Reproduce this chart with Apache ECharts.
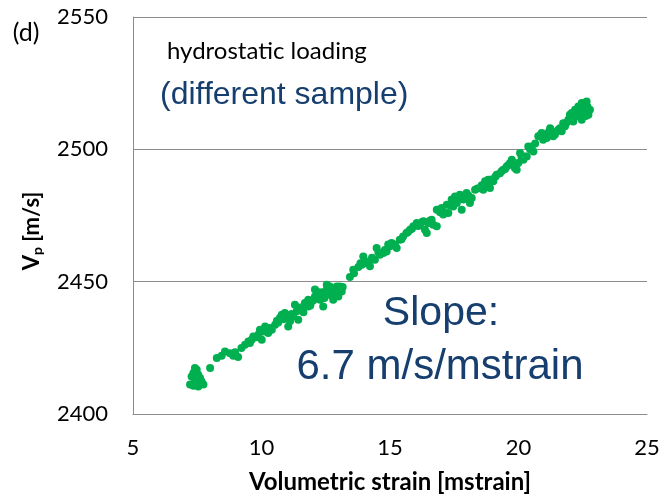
<!DOCTYPE html>
<html><head><meta charset="utf-8">
<script src="https://cdn.jsdelivr.net/npm/echarts@6/dist/echarts.min.js"></script>
<style>html,body{margin:0;padding:0;background:#fff}#c{width:661px;height:494px}</style>
</head><body><div id="c"></div>
<script>
// Volumetric strain [mstrain]
var strainX = [7.41,7.48,7.35,7.54,7.28,7.61,7.41,7.67,7.48,7.22,7.74,7.35,7.54,
8.00,8.26,8.45,8.58,8.77,8.90,8.97,9.09,9.22,9.36,9.49,9.62,9.68,9.88,9.94,10.01,10.07,10.14,10.26,10.40,10.53,10.65,10.79,10.91,10.98,11.04,11.11,11.24,11.30,11.37,11.43,11.56,11.69,11.82,11.82,11.95,12.08,12.08,12.15,12.28,12.28,12.40,12.47,12.54,12.54,12.66,12.66,12.79,12.79,12.86,12.93,12.93,12.99,13.05,13.12,
13.44,13.57,13.77,13.90,13.96,14.16,14.22,14.41,14.48,14.61,14.74,14.87,14.93,15.06,15.19,15.26,15.38,15.51,15.64,15.78,15.91,16.04,16.17,16.30,16.36,16.43,16.49,16.62,16.68,16.82,16.82,16.88,17.01,17.07,17.14,17.21,17.27,17.40,17.46,17.53,17.60,17.72,17.79,17.85,17.98,18.11,18.18,18.31,18.50,18.63,18.70,18.82,18.89,19.02,19.15,19.28,19.41,19.54,19.67,19.74,19.86,19.93,19.99,20.06,20.19,20.25,20.32,20.38,20.51,20.58,20.77,20.90,20.96,21.10,21.23,21.29,21.35,21.49,21.61,21.68,21.74,21.81,21.94,22.00,22.07,22.13,22.20,22.26,22.33,22.39,22.46,22.46,22.52,22.59,22.65,22.72,22.78,
9.55,9.80,10.20,10.33,10.60,10.72,10.85,11.17,11.50,11.63,11.76,11.90,12.02,12.20,12.35,12.45,12.60,12.72,12.83,12.96,13.08,13.16,13.60,13.85,14.05,14.30,14.55,14.80,15.00,15.45,15.70,15.85,16.10,16.25,16.55,16.95,17.35,17.67,17.92,18.05,18.40,18.57,18.77,18.95,19.10,19.35,19.48,19.60,19.80,20.12,20.45,20.65,20.84,21.02,21.17,21.42,21.55,21.87,22.04,22.17,22.30,22.42,22.55,22.68,22.62];
// Vp [m/s]
var vpY = [2417.4,2416.7,2415.5,2414.8,2414.2,2413.6,2413.0,2412.3,2411.7,2411.1,2411.1,2410.7,2410.4,
2417.4,2421.2,2422.0,2423.6,2423.0,2422.0,2423.3,2421.5,2424.9,2426.2,2427.4,2428.1,2429.3,2430.0,2431.8,2428.1,2431.2,2433.1,2430.6,2431.8,2433.7,2434.6,2437.5,2438.2,2436.3,2433.1,2435.0,2436.9,2441.3,2438.8,2435.6,2439.4,2441.9,2440.6,2443.2,2442.5,2444.4,2447.0,2446.3,2443.2,2444.4,2440.6,2445.1,2448.8,2447.0,2447.0,2448.2,2443.2,2445.7,2445.7,2448.2,2447.6,2444.4,2448.2,2446.3,
2451.8,2454.5,2455.5,2456.4,2459.5,2457.6,2455.8,2458.3,2462.7,2460.2,2460.8,2461.4,2464.0,2464.6,2464.0,2462.7,2465.8,2467.1,2468.4,2469.6,2470.9,2472.2,2471.5,2472.8,2469.6,2468.4,2472.2,2473.4,2471.5,2470.9,2477.2,2477.2,2477.8,2475.4,2475.9,2479.1,2475.9,2481.0,2478.4,2482.2,2479.7,2482.8,2477.2,2481.0,2483.5,2479.7,2481.6,2484.7,2485.4,2484.7,2487.9,2488.5,2485.4,2487.9,2490.4,2491.0,2492.3,2493.5,2494.8,2496.1,2492.9,2492.3,2494.8,2498.6,2496.1,2497.3,2497.3,2501.1,2501.1,2499.2,2504.9,2506.2,2503.6,2504.3,2508.0,2506.2,2504.9,2506.8,2508.0,2506.8,2509.9,2508.7,2511.2,2513.1,2513.7,2510.5,2515.0,2512.4,2516.2,2513.7,2511.2,2517.5,2517.5,2515.6,2518.1,2513.1,2515.0,
2426.8,2429.0,2432.0,2432.5,2435.2,2436.4,2435.8,2437.8,2440.2,2438.4,2442.0,2441.0,2443.0,2445.5,2446.0,2443.8,2446.6,2444.8,2447.2,2446.0,2447.4,2448.0,2453.2,2457.0,2457.0,2459.0,2461.0,2462.0,2463.4,2466.0,2468.8,2470.0,2471.0,2472.5,2473.0,2476.2,2478.8,2481.5,2482.0,2482.6,2485.2,2486.4,2487.0,2488.6,2489.6,2491.8,2492.6,2494.0,2495.0,2497.0,2500.0,2502.2,2505.2,2504.8,2506.5,2505.6,2507.4,2510.0,2511.8,2513.8,2514.6,2516.4,2514.2,2516.2,2512.6];
var xTicks = [5, 10, 15, 20, 25];
var yTicks = [2400, 2450, 2500, 2550];

var points = strainX.map(function (x, i) { return [x, vpY[i]]; });
var navy = '#163E6E';
var chart = echarts.init(document.getElementById('c'));
chart.setOption({
  animation: false,
  grid: { left: 133, right: 14, top: 17, bottom: 80, containLabel: false, outerBoundsMode: 'none' },
  xAxis: {
    type: 'value', min: xTicks[0], max: xTicks[xTicks.length - 1], interval: 5,
    axisLine: { show: true, lineStyle: { color: '#8c8c8c', width: 1 } },
    axisTick: { show: false },
    splitLine: { show: false },
    axisLabel: { fontFamily: 'Lato', fontSize: 22, color: '#000', margin: 23, formatter: function (v) { return String(v); } },
    name: 'Volumetric strain [mstrain]', nameLocation: 'middle', nameGap: 56,
    nameTextStyle: { fontFamily: 'Lato', fontWeight: 'bold', fontSize: 24, color: '#000' }
  },
  yAxis: {
    type: 'value', min: yTicks[0], max: yTicks[yTicks.length - 1], interval: 50,
    axisLine: { show: true, lineStyle: { color: '#8c8c8c', width: 1 } },
    axisTick: { show: false },
    splitLine: { show: true, lineStyle: { color: '#8c8c8c', width: 1 } },
    axisLabel: { fontFamily: 'Lato', fontSize: 22, color: '#000', margin: 25, formatter: function (v) { return String(v); } }
  },
  graphic: [
    { type: 'text', x: 26, y: 33, style: { text: '(d)', font: '25px Lato', fill: '#000', align: 'center', verticalAlign: 'middle', textAlign: 'center', textVerticalAlign: 'middle' } },
    { type: 'text', x: 32, y: 231, rotation: Math.PI / 2,
      style: { text: '{v|V}{s|p}{v| [m/s]}', align: 'center', verticalAlign: 'middle', textAlign: 'center', textVerticalAlign: 'middle',
        rich: { v: { font: 'bold 22px Lato', fill: '#000', color: '#000' }, s: { font: 'bold 14px Lato', fill: '#000', color: '#000', verticalAlign: 'bottom', padding: [10, 0, 0, 0] } } } },
    { type: 'text', x: 167, y: 51, style: { text: 'hydrostatic loading', font: '24px Lato', fill: '#000', align: 'left', verticalAlign: 'middle', textAlign: 'left', textVerticalAlign: 'middle' } },
    { type: 'text', x: 160, y: 95, style: { text: '(different sample)', font: '32px "Liberation Sans"', fill: navy, align: 'left', verticalAlign: 'middle', textAlign: 'left', textVerticalAlign: 'middle' } },
    { type: 'text', x: 441, y: 314, style: { text: 'Slope:', font: '41px "Liberation Sans"', fill: navy, align: 'center', verticalAlign: 'middle', textAlign: 'center', textVerticalAlign: 'middle' } },
    { type: 'text', x: 440, y: 367, style: { text: '6.7 m/s/mstrain', font: '42px "Liberation Sans"', fill: navy, align: 'center', verticalAlign: 'middle', textAlign: 'center', textVerticalAlign: 'middle' } }
  ],
  series: [{
    type: 'scatter', data: points, symbol: 'circle', symbolSize: 8,
    itemStyle: { color: '#00B050', opacity: 1 }
  }]
});
</script></body></html>
